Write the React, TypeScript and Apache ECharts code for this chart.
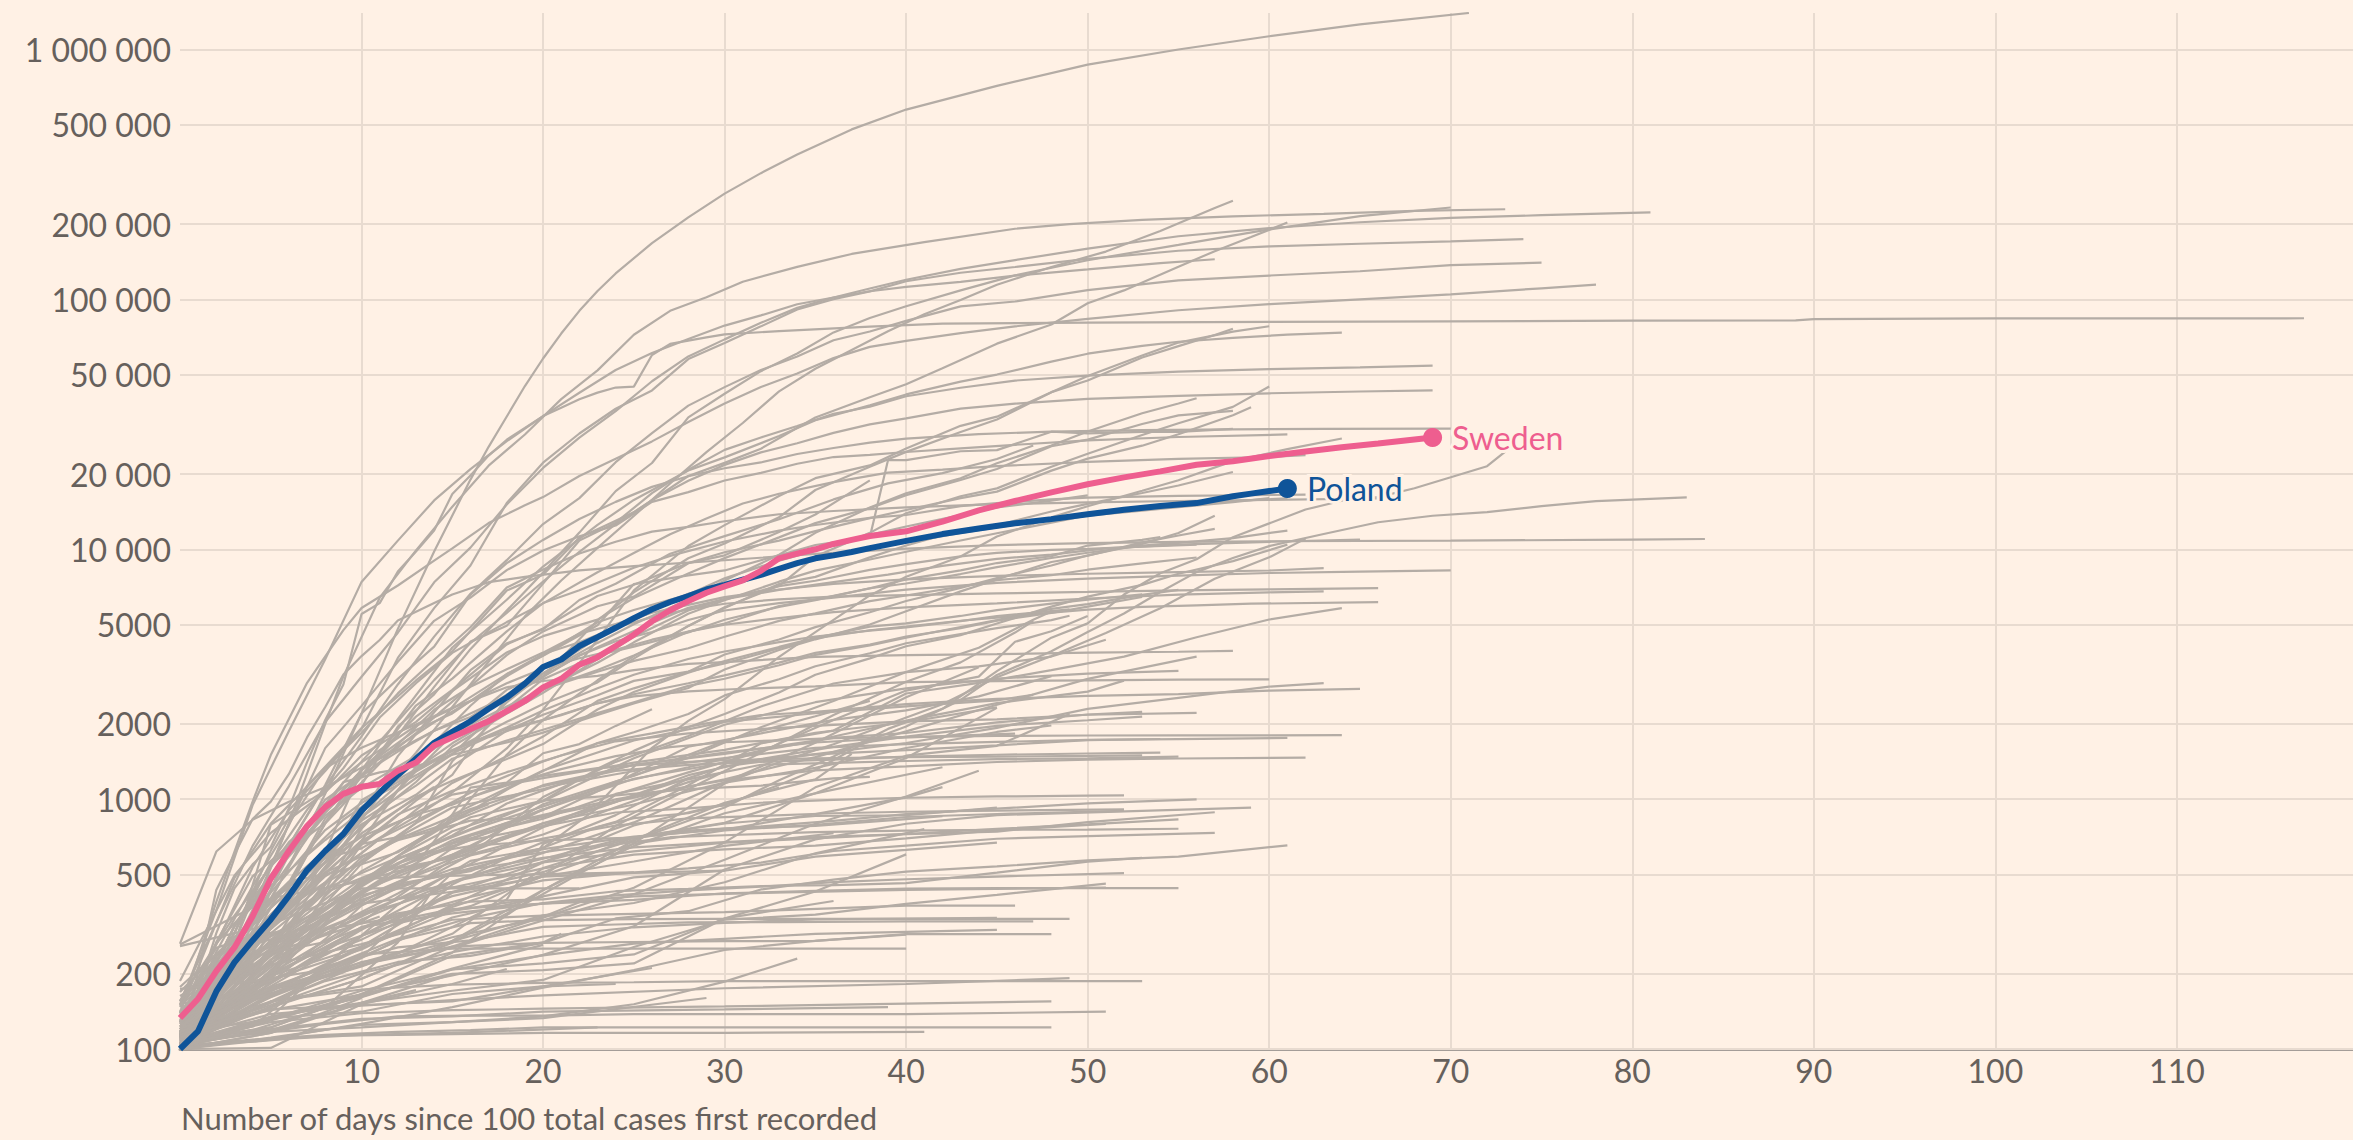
import React, { useEffect, useRef } from "react";
import * as echarts from "echarts";

// ---------- axis ticks ----------
const xTicks: number[] = [0, 10, 20, 30, 40, 50, 60, 70, 80, 90, 100, 110];
const yTicks: number[] = [100, 200, 500, 1000, 2000, 5000, 10000, 20000, 50000, 100000, 200000, 500000, 1000000];
const xAxisTitle = "Number of days since 100 total cases first recorded";

// ---------- highlighted countries: [day, cumulative cases] ----------
const sweden: number[][] = [[0,133],[1,159],[2,205],[3,255],[4,340],[5,480],[6,620],[7,780],[8,930],[9,1050],[10,1120],[11,1150],[12,1300],[13,1400],[14,1640],[15,1770],[16,1910],[17,2050],[18,2250],[19,2470],[20,2800],[21,3030],[22,3450],[23,3700],[24,4100],[25,4550],[26,5150],[27,5700],[28,6200],[29,6700],[30,7100],[31,7500],[32,8200],[33,9200],[34,9600],[35,10000],[36,10500],[37,10900],[38,11300],[40,11800],[42,12900],[44,14300],[46,15600],[48,16900],[50,18200],[52,19400],[54,20500],[56,21800],[58,22500],[60,23600],[62,24600],[64,25600],[66,26500],[69,28000]];
const poland: number[][] = [[0,100],[1,118],[2,170],[3,222],[4,272],[5,330],[6,410],[7,520],[8,620],[9,725],[10,900],[11,1060],[12,1250],[13,1450],[14,1680],[15,1860],[16,2050],[17,2300],[18,2550],[19,2900],[20,3380],[21,3620],[22,4100],[23,4450],[24,4850],[25,5300],[26,5750],[27,6150],[28,6500],[29,6900],[30,7200],[31,7550],[32,7900],[33,8350],[34,8800],[35,9200],[36,9450],[37,9750],[38,10100],[40,10800],[42,11500],[44,12100],[46,12700],[48,13200],[50,13800],[52,14400],[54,14900],[56,15300],[58,16300],[59,16700],[60,17100],[61,17500]];

// ---------- all other countries (grey) ----------
const greyNames: string[] = ["US","Spain","Italy","Germany","France","UK","Russia","Turkey","Brazil","Iran","China","Canada","Belgium","Netherlands","Switzerland","Portugal","Ireland","India","Peru","Mexico","Saudi Arabia","Chile","Pakistan","Qatar","Belarus","Singapore","Ecuador","UAE","Israel","Austria","Japan","South Korea","Romania","Ukraine","Bangladesh","Indonesia","Denmark","Philippines","Colombia","South Africa","Serbia","Dominican Republic","Kuwait","Egypt","Panama","Czechia","Norway","Argentina","Australia","Malaysia","Finland","Morocco","Algeria","Kazakhstan","Moldova","Bahrain","Ghana","Nigeria","Afghanistan","Oman","Luxembourg","Armenia","Hungary","Iraq","Cameroon","Azerbaijan","Thailand","Bolivia","Greece","Uzbekistan","Guinea","Honduras","Senegal","Croatia","Bosnia","Bulgaria","Sudan","Cuba","Iceland","Ivory Coast","North Macedonia","Estonia","Lithuania","Slovakia","New Zealand","Slovenia","Guatemala","Somalia","DR Congo","Djibouti","Kyrgyzstan","Tunisia","Latvia","El Salvador","Gabon","Mali","Kenya","Albania","Cyprus","Sri Lanka","Lebanon","Costa Rica","Niger","Burkina Faso","Andorra","Uruguay","Georgia","San Marino","Jordan","Paraguay","Tanzania","Jamaica","Malta","Taiwan","Venezuela","Zambia","Sierra Leone","Mauritius","Montenegro","Vietnam","Rwanda","Ethiopia","Madagascar","Uganda","Brunei","Cambodia","Trinidad and Tobago","Faroe Islands","Kosovo","Palestine","Congo","Haiti","Chad","Equatorial Guinea","Cape Verde","Togo","Liberia","Nepal","Guinea-Bissau","Guernsey","Gibraltar","Mayotte","Reunion","Martinique","Guadeloupe","French Guiana","Isle of Man","Jersey","Bermuda","Puerto Rico","Eswatini","South Sudan","Myanmar","Tajikistan","Maldives","Central African Republic","Sao Tome and Principe","Benin"];

const greyLines: number[][][] = [
  [[0,100],[2,160],[4,290],[6,540],[8,1050],[10,2200],[12,4800],[14,9800],[16,19000],[17,25700],[18,34000],[19,45000],[20,58000],[21,73000],[22,90000],[23,108000],[24,127000],[26,168000],[28,213000],[30,265000],[32,320000],[34,380000],[37,479000],[40,575000],[45,715000],[50,870000],[55,1000000],[60,1130000],[65,1260000],[71,1400000]],
  [[0,120],[2,190],[4,350],[6,800],[8,2000],[9,3100],[11,6400],[13,9900],[15,14800],[17,21600],[19,28800],[21,39900],[23,52000],[25,72200],[27,90000],[29,102000],[31,117700],[34,135000],[37,152000],[41,169500],[46,191700],[49,200200],[53,208000],[58,215000],[63,220000],[68,226000],[73,229500]],
  [[0,155],[2,322],[4,650],[6,1128],[8,2036],[10,3089],[12,4636],[14,7375],[16,10149],[18,15113],[20,21157],[22,27980],[24,35713],[26,47021],[28,59138],[30,69176],[32,80589],[34,92472],[36,101739],[38,110574],[40,119827],[43,132547],[46,143626],[50,159516],[55,178972],[60,192994],[65,203591],[70,211938],[75,217185],[81,223096]],
  [[0,130],[2,262],[4,534],[6,902],[8,1296],[10,1908],[12,3675],[14,5813],[16,8604],[18,15320],[20,22213],[22,29056],[24,36508],[26,43211],[28,57695],[30,66885],[32,77981],[34,91159],[36,100123],[38,107663],[40,118181],[43,127854],[46,134753],[50,145184],[55,156513],[60,163009],[65,167007],[70,170588],[74,174098]],
  [[0,100],[2,191],[4,285],[6,653],[8,1126],[10,1784],[12,2876],[14,4469],[16,6633],[18,9043],[20,12612],[22,16018],[24,22304],[26,29155],[28,37575],[30,44550],[32,52128],[34,59105],[36,68605],[38,74390],[40,82048],[43,93790],[46,98076],[50,108847],[55,119151],[60,124575],[65,129581],[70,137150],[75,140227]],
  [[0,115],[2,206],[4,321],[6,459],[8,798],[10,1140],[12,1950],[14,2626],[16,3983],[18,5683],[20,8077],[22,11658],[24,17089],[26,22141],[28,33718],[30,41903],[32,51608],[34,60733],[36,73758],[38,84279],[40,93873],[43,108692],[46,124743],[50,143464],[55,165221],[60,190584],[65,215260],[70,233151]],
  [[0,114],[3,199],[5,253],[7,438],[9,658],[11,1036],[13,1534],[15,2337],[17,3548],[19,5389],[21,7497],[23,10131],[25,13584],[27,18328],[29,24490],[31,32008],[33,42853],[35,52763],[37,62773],[39,74588],[41,87147],[43,99399],[45,114431],[48,134687],[51,155370],[54,187859],[57,232243],[58,248000]],
  [[0,150],[2,359],[4,947],[6,1872],[8,3629],[10,7402],[12,10827],[14,15679],[16,20921],[18,27069],[20,34109],[22,42282],[24,52167],[26,61049],[28,69392],[30,78546],[32,86306],[34,95591],[36,101790],[38,107773],[40,112261],[43,117589],[46,124375],[50,131744],[54,139771],[57,144749]],
  [[0,151],[3,291],[5,621],[7,1128],[10,1924],[13,2985],[15,3904],[18,6836],[20,7910],[22,11130],[25,14049],[28,19638],[30,22169],[32,25262],[35,33682],[38,40581],[40,45757],[42,52995],[45,66501],[48,79361],[50,96559],[52,108620],[55,135106],[57,155939],[59,177589],[61,202918]],
  [[0,139],[2,388],[4,978],[5,1501],[7,2922],[9,4747],[10,5823],[12,7161],[14,9000],[15,10075],[17,12729],[19,14991],[20,16169],[22,19644],[24,23049],[26,27017],[28,32332],[30,38309],[32,44605],[34,50468],[36,58226],[38,64586],[40,68192],[43,73303],[46,77995],[50,83505],[55,90481],[60,95646],[65,100000],[70,104691],[75,110767],[78,114533]],
  [[0,100],[2,291],[3,440],[4,548],[5,643],[6,920],[7,1406],[8,2075],[9,2877],[10,5509],[11,6087],[12,8141],[13,9802],[14,11891],[15,16630],[16,19716],[17,23707],[18,27440],[19,30587],[20,34110],[21,36814],[22,39829],[23,42354],[24,44386],[25,44759],[26,59895],[27,66358],[28,68413],[29,70513],[30,72434],[33,74680],[38,77754],[42,79968],[50,80778],[60,81300],[70,81700],[80,82200],[89,82341],[90,83403],[100,83900],[117,84024]],
  [[0,108],[3,198],[5,304],[7,424],[10,1302],[12,2091],[15,4043],[18,6280],[20,8527],[23,12519],[25,15756],[28,20654],[30,23316],[33,28379],[35,32813],[38,37657],[40,41649],[43,46895],[45,50026],[48,56343],[50,60616],[53,65194],[55,67674],[58,70091],[61,72278],[64,73568]],
  [[0,169],[2,239],[4,314],[6,599],[8,886],[10,1243],[12,1795],[14,2815],[16,4269],[18,4937],[20,7284],[22,10836],[24,12775],[26,16770],[28,20814],[30,24983],[32,28018],[34,31119],[36,34809],[38,37183],[40,40956],[43,44293],[46,47334],[50,49517],[55,51420],[60,52596],[65,53449],[69,54288]],
  [[0,128],[2,265],[4,382],[6,614],[8,959],[10,1413],[12,2051],[14,2994],[16,4216],[18,5560],[20,7431],[22,9762],[24,12595],[26,15723],[28,18803],[30,21762],[32,24413],[34,26551],[36,29214],[38,31589],[40,33405],[43,36535],[46,38245],[50,39989],[55,41087],[60,42093],[65,42788],[69,43211]],
  [[0,114],[2,268],[4,491],[6,652],[8,1139],[10,2200],[12,3028],[14,4075],[16,6575],[18,8795],[20,10897],[22,13213],[24,15475],[26,17768],[28,19606],[30,21100],[32,22253],[34,24051],[36,25415],[38,26732],[40,27740],[44,28894],[48,29586],[53,29981],[58,30207],[63,30344],[70,30413]],
  [[0,112],[2,245],[4,448],[6,785],[8,1600],[10,2362],[12,3544],[14,5170],[16,6408],[18,8251],[20,9886],[22,11278],[24,12442],[26,15472],[28,16934],[30,18841],[32,20206],[34,21982],[36,23392],[38,23864],[40,24505],[43,25351],[46,26182],[50,27268],[55,28132],[61,28810]],
  [[0,129],[3,292],[5,557],[7,906],[9,1329],[11,2121],[13,2910],[15,3849],[18,5111],[20,6074],[23,8089],[25,9655],[27,11479],[29,13271],[31,15251],[33,16671],[36,18561],[39,20253],[42,20833],[45,21506],[50,22385],[55,22996],[60,23401],[62,23827]],
  [[0,102],[3,143],[5,195],[8,415],[10,657],[13,987],[15,1251],[18,2543],[20,3072],[23,5194],[25,6725],[28,9205],[30,10541],[33,13430],[35,17265],[38,21370],[40,24530],[43,29451],[45,33050],[48,42533],[50,49400],[53,59662],[55,67161],[58,74281],[60,78055]],
  [[0,117],[3,263],[5,395],[8,580],[10,635],[13,852],[15,1065],[18,1595],[20,2281],[23,4342],[25,6848],[28,10303],[30,12491],[33,16325],[35,19250],[38,21648],[40,25331],[43,31190],[45,33931],[48,42534],[50,47372],[53,58526],[55,65015],[57,72059],[58,76306]],
  [[0,118],[3,203],[5,316],[8,585],[10,848],[13,1215],[15,1510],[18,2439],[20,3181],[23,4219],[25,5014],[28,6297],[30,7497],[33,9501],[35,11633],[38,14677],[40,16752],[43,19224],[45,22088],[48,26025],[50,29616],[53,35022],[55,38324],[56,40186]],
  [[0,103],[3,238],[5,344],[8,562],[10,767],[13,1299],[15,1563],[18,2039],[20,2402],[23,2932],[25,3651],[28,4934],[30,5862],[33,7142],[35,9362],[38,11631],[40,13930],[43,16299],[45,17522],[48,21402],[50,24097],[53,28656],[55,31938],[58,37136],[60,44830]],
  [[0,156],[3,342],[5,537],[8,922],[10,1306],[13,2139],[15,2738],[18,4161],[20,4815],[23,6501],[25,7213],[28,8807],[30,9730],[33,10832],[35,11812],[38,13331],[40,14365],[43,16023],[45,17008],[48,20643],[50,23048],[53,25972],[55,28866],[58,34381],[59,37040]],
  [[0,187],[3,495],[5,733],[8,1063],[10,1495],[13,2039],[15,2708],[18,3864],[20,4489],[23,5230],[25,6383],[28,7993],[30,9216],[33,11155],[35,12723],[38,14612],[40,16473],[43,18926],[45,20941],[48,25837],[50,27474],[53,31728],[55,34336],[58,35788]],
  [[0,262],[5,401],[10,470],[15,590],[20,781],[23,949],[26,1604],[28,2057],[30,2512],[33,3711],[35,4663],[38,6533],[40,7764],[43,9358],[45,11244],[48,13409],[50,14872],[53,17142],[55,18890],[58,22520],[61,25149],[64,27741]],
  [[0,152],[3,163],[5,304],[8,562],[10,861],[12,1486],[14,2226],[16,3281],[18,4204],[20,4779],[22,6264],[24,7281],[27,9590],[30,11289],[33,13181],[36,15828],[39,18350],[42,20168],[45,22973],[47,26000]],
  [[0,102],[5,130],[10,166],[15,243],[20,432],[25,683],[30,926],[33,1189],[36,1481],[39,1910],[42,2299],[45,3252],[48,4427],[50,5050],[52,6588],[54,8014],[56,9125],[58,11178],[60,12693],[62,14423],[64,15641],[66,16169],[68,17548],[70,19410],[72,21500],[73,24600]],
  [[0,111],[3,260],[5,789],[8,1082],[10,1403],[13,1966],[15,2302],[18,3163],[20,3747],[23,4965],[25,7257],[28,7858],[30,8225],[33,9468],[35,10398],[38,11183],[39,22719],[40,22719],[43,24675],[45,24934],[48,29538],[50,29071],[53,29509],[55,29509],[58,30298]],
  [[0,113],[3,153],[5,198],[8,333],[10,468],[13,664],[15,814],[18,1505],[20,2076],[23,2990],[25,3736],[28,4933],[30,5825],[33,7265],[35,7755],[38,9281],[40,10349],[43,11929],[45,12481],[48,14163],[50,15192],[53,16793],[55,17989],[58,20386]],
  [[0,126],[3,255],[5,433],[8,883],[10,1238],[13,2369],[15,3035],[18,4695],[20,6092],[22,6857],[25,8430],[27,9404],[30,10743],[33,11868],[35,12501],[38,13362],[40,13713],[43,14882],[45,15298],[48,15834],[50,16101],[55,16346],[62,16539]],
  [[0,104],[2,182],[4,361],[6,800],[8,1332],[10,1843],[12,2649],[14,3611],[16,4876],[18,7029],[20,8291],[22,9618],[24,10711],[26,11766],[28,12297],[30,12942],[33,13806],[36,14226],[40,14710],[45,15148],[50,15402],[55,15597],[60,15774],[67,15997]],
  [[0,105],[3,160],[5,186],[8,241],[10,274],[13,349],[15,455],[18,581],[20,639],[23,773],[25,839],[28,878],[30,950],[33,1140],[35,1307],[38,1724],[40,1953],[43,2495],[45,3139],[48,3906],[50,4667],[52,5530],[54,6748],[56,8100],[58,9231],[60,10296],[63,11512],[66,12829],[69,13614],[72,14088],[75,14877],[78,15575],[83,16120]],
  [[0,104],[1,204],[2,433],[3,602],[4,833],[5,977],[6,1261],[7,1766],[8,2337],[9,3150],[10,3736],[11,4335],[12,5186],[13,5621],[14,6088],[15,6593],[17,7382],[19,7755],[22,8236],[25,8565],[30,9037],[35,9583],[40,10062],[45,10384],[50,10591],[55,10708],[60,10765],[70,10822],[80,10936],[84,10991]],
  [[0,123],[3,217],[5,308],[8,433],[10,762],[13,1292],[15,1815],[18,2738],[20,3183],[23,4417],[25,5202],[28,6633],[30,7216],[33,8418],[35,9242],[38,10096],[40,10635],[43,11616],[45,12240],[48,13163],[50,13837],[53,14811],[55,15131],[58,15588],[61,16002]],
  [[0,113],[3,310],[5,548],[8,804],[10,1319],[13,1892],[15,2203],[18,3102],[20,3764],[23,5106],[25,5710],[28,6592],[30,7647],[33,9009],[35,9866],[38,11411],[40,12331],[43,13691],[45,14710],[48,15648],[50,16425]],
  [[0,123],[3,218],[5,330],[8,803],[10,1231],[13,1838],[15,2456],[18,3772],[20,4689],[23,5913],[25,6462],[28,8790],[30,9455],[33,11719],[35,13770],[38,18863]],
  [[0,117],[3,309],[5,450],[8,686],[10,893],[13,1414],[15,1790],[18,2273],[20,2738],[23,3512],[25,4241],[28,5516],[30,6248],[33,7418],[35,8211],[38,9096],[40,9771],[43,10843],[45,11587],[48,12776],[50,13645],[53,14265],[55,14749],[58,15438],[60,16006]],
  [[0,264],[2,617],[4,827],[6,977],[8,1115],[10,1337],[12,1577],[14,1877],[16,2200],[18,2577],[20,3107],[22,3757],[24,4369],[26,5071],[28,5830],[30,6318],[33,6876],[36,7384],[39,7912],[42,8575],[45,9158],[48,9523],[51,10083],[55,10429],[60,10713],[65,10927]],
  [[0,111],[3,187],[5,217],[8,380],[10,552],[13,803],[15,1418],[18,2311],[20,3018],[23,3764],[25,4076],[28,4648],[30,5223],[33,5878],[35,6259],[38,6981],[40,7294],[43,7958],[45,8488],[48,9223],[50,9684],[53,10343],[55,10610],[58,11086],[61,11876]],
  [[0,102],[3,196],[5,306],[8,491],[10,608],[13,906],[15,1161],[18,1485],[20,1780],[23,2473],[25,2776],[28,3233],[30,3792],[33,4356],[35,4881],[38,5597],[40,6207],[43,7006],[45,7668],[48,8613],[50,9456],[53,10495],[55,11613],[57,13610]],
  [[0,116],[3,240],[5,402],[7,709],[9,1170],[11,1280],[13,1353],[15,1505],[18,1686],[20,1845],[23,2173],[25,2415],[28,2783],[30,3300],[33,3953],[35,4361],[38,4996],[40,5647],[43,6783],[45,7572],[48,8895],[50,9420],[53,10652],[55,11350],[57,12074]],
  [[0,103],[3,222],[5,303],[8,528],[10,785],[13,1171],[15,1624],[18,2200],[20,2666],[23,3630],[25,4465],[28,5690],[30,6318],[33,7114],[35,7483],[38,8275],[40,8724],[43,9362],[45,9677],[48,9943],[50,10032],[53,10243],[56,10438]],
  [[0,112],[3,312],[5,488],[8,859],[10,1109],[13,1488],[15,1828],[18,2349],[20,2759],[23,3286],[25,3755],[28,4680],[30,5044],[33,5926],[35,6293],[38,6972],[40,7578],[43,8235],[45,8807],[48,9376],[50,10347],[53,10900],[54,11196]],
  [[0,104],[5,148],[10,191],[15,266],[20,417],[25,665],[30,1154],[33,1405],[36,1658],[39,1995],[42,2399],[45,3075],[48,3740],[51,4619],[54,5804],[57,7623],[60,9286],[62,11028]],
  [[0,110],[3,196],[5,285],[8,366],[10,456],[13,609],[15,710],[18,865],[20,985],[23,1322],[25,1560],[28,1939],[30,2190],[33,2673],[35,3144],[38,3659],[40,4092],[43,4534],[45,5042],[48,5895],[50,6465],[53,7201],[55,7981],[58,8964],[61,10431]],
  [[0,137],[3,245],[5,345],[8,558],[10,989],[13,1317],[15,1673],[18,2249],[20,2752],[23,3234],[25,3574],[28,4016],[30,4467],[33,5166],[35,5538],[38,6200],[40,6532],[43,7090],[45,7523],[48,7868],[50,8282],[53,8783],[56,9268]],
  [[0,116],[2,150],[4,298],[6,464],[8,836],[10,1165],[12,1654],[14,2279],[16,2817],[18,3308],[20,3858],[22,4591],[24,5017],[26,5569],[28,5991],[30,6433],[33,6900],[36,7273],[40,7579],[45,7819],[50,7979],[55,8095],[60,8221],[63,8406]],
  [[0,108],[2,176],[4,400],[6,621],[8,996],[10,1256],[12,1550],[14,1877],[16,2132],[18,2621],[20,3084],[22,3755],[24,4284],[26,4665],[28,5208],[30,5687],[33,6086],[36,6409],[40,6896],[45,7338],[50,7631],[55,7847],[60,8034],[65,8132],[70,8237]],
  [[0,128],[3,266],[5,387],[8,589],[10,820],[13,1133],[15,1451],[18,1715],[20,1894],[23,2208],[25,2443],[28,2839],[30,3031],[33,3435],[35,3780],[38,4127],[40,4428],[43,4885],[45,5208],[48,5776],[50,6034],[53,6563],[55,6879]],
  [[0,107],[2,140],[4,200],[6,300],[8,454],[10,681],[12,1081],[14,1682],[16,2364],[18,3166],[20,3809],[22,4245],[24,4864],[26,5350],[28,5744],[30,6052],[33,6303],[36,6462],[40,6547],[45,6661],[50,6747],[55,6847],[60,6914],[66,6989]],
  [[0,149],[2,197],[4,428],[6,673],[8,900],[10,1306],[12,1624],[14,2031],[16,2470],[18,2908],[20,3333],[22,3662],[24,3963],[26,4346],[28,4683],[30,4987],[33,5305],[36,5603],[40,5851],[45,6071],[50,6353],[55,6589],[60,6726],[63,6779]],
  [[0,155],[3,272],[5,400],[8,626],[10,792],[13,1041],[15,1352],[18,1882],[20,2176],[23,2605],[25,2974],[28,3237],[30,3489],[33,4014],[35,4395],[38,4740],[40,4906],[43,5176],[45,5327],[48,5573],[50,5738],[53,5880],[56,5962],[59,6054],[66,6145]],
  [[0,115],[3,225],[5,345],[8,556],[10,708],[13,1021],[15,1184],[18,1448],[20,1661],[23,2283],[25,2685],[28,3209],[30,3568],[33,4065],[35,4423],[38,4903],[40,5053],[43,5408],[45,5711],[48,6063],[50,6281],[53,6607]],
  [[0,139],[3,264],[5,367],[8,584],[10,847],[13,1320],[15,1572],[18,1914],[20,2070],[23,2418],[25,2629],[28,2910],[30,3127],[33,3517],[35,3848],[38,4154],[40,4474],[43,4838],[45,5182],[48,5558],[50,5891],[53,6442]],
  [[0,111],[3,228],[5,302],[8,464],[10,662],[13,727],[15,812],[18,1091],[20,1295],[23,1676],[25,1852],[28,2191],[30,2601],[33,3020],[35,3402],[38,3834],[40,4205],[43,4578],[45,4834],[48,5207],[49,5417]],
  [[0,149],[3,263],[5,423],[8,752],[10,965],[13,1289],[15,1560],[18,1934],[20,2264],[23,2778],[25,3147],[28,3638],[30,3897],[33,4247],[35,4476],[38,4728],[40,4867],[43,5153],[45,5406],[49,5745]],
  [[0,109],[4,214],[8,332],[12,458],[16,515],[20,672],[24,811],[28,1136],[32,1671],[36,1881],[40,2647],[44,2921],[48,3284],[52,3720],[56,4444],[60,5236],[64,5816]],
  [[0,132],[4,161],[8,214],[12,378],[16,566],[20,636],[24,1042],[28,1279],[32,1550],[36,2074],[40,2719],[44,3091],[46,4263],[48,4700],[50,5408]],
  [[0,111],[4,184],[8,254],[12,318],[16,373],[20,493],[24,782],[28,1095],[32,1532],[36,2170],[40,2950],[43,3526],[46,4641],[47,5162]],
  [[0,110],[4,235],[8,367],[12,555],[16,714],[20,906],[24,1176],[28,1463],[32,1939],[36,2469],[40,3224],[44,4033],[47,5226],[48,5639]],
  [[0,109],[4,179],[8,298],[12,419],[16,599],[20,1019],[24,1410],[28,1790],[32,2348],[36,2903],[40,3224],[44,3399],[48,3721],[51,4341]],
  [[0,140],[3,484],[5,798],[8,1333],[10,1605],[13,1988],[15,2319],[18,2804],[20,2970],[23,3115],[25,3281],[28,3480],[30,3537],[35,3711],[40,3769],[45,3802],[50,3859],[55,3888],[58,3923]],
  [[0,115],[5,235],[10,424],[15,663],[20,853],[25,1013],[30,1201],[35,1473],[40,1867],[45,2386],[50,3029],[56,3718]],
  [[0,103],[5,226],[10,447],[15,744],[20,980],[25,1458],[30,1984],[35,2443],[40,2775],[45,3035],[50,3178],[55,3263]],
  [[0,101],[5,164],[10,233],[15,506],[20,772],[25,1031],[30,1352],[35,1513],[40,1677],[45,1928],[50,2296],[55,2543],[60,2818],[63,2913]],
  [[0,113],[4,193],[8,509],[12,685],[16,820],[20,848],[24,1163],[28,1621],[32,1832],[36,2077],[40,2265],[44,2579],[48,3105]],
  [[0,122],[5,273],[10,584],[15,926],[20,1098],[25,1373],[30,1518],[35,1717],[40,2060],[45,2422],[50,2693],[52,2980]],
  [[0,114],[3,212],[5,322],[7,599],[9,827],[11,1045],[13,1245],[15,1524],[17,1771],[19,1978],[21,2169],[23,2423],[25,2579],[28,2700],[31,2765],[35,2826],[40,2938],[45,2969],[50,2989],[55,3009],[60,3017]],
  [[0,107],[5,183],[10,300],[15,465],[20,609],[25,807],[30,1167],[35,1681],[40,2556],[44,3372]],
  [[0,117],[2,190],[5,331],[8,464],[11,695],[14,892],[17,1156],[20,1415],[23,1673],[26,1832],[29,2011],[32,2170],[35,2235],[40,2401],[45,2517],[50,2591],[55,2632],[60,2716],[65,2760]],
  [[0,104],[5,190],[10,457],[15,865],[20,1302],[25,1716],[30,2039],[35,2207],[40,2349],[45,2486],[47,2612]],
  [[0,111],[5,212],[10,404],[15,579],[20,954],[25,1240],[30,1710],[35,2146],[38,2473]],
  [[0,110],[5,268],[10,382],[15,426],[20,510],[25,702],[30,804],[35,1055],[40,1461],[45,2318]],
  [[0,105],[5,175],[10,222],[15,280],[20,335],[25,442],[30,671],[35,1115],[40,1492],[45,1634],[49,2189]],
  [[0,105],[3,254],[6,382],[9,586],[12,867],[15,1079],[18,1282],[21,1495],[24,1704],[28,1832],[32,1908],[36,1981],[40,2047],[45,2085],[50,2176],[56,2213]],
  [[0,126],[4,258],[8,368],[12,579],[16,753],[20,935],[24,1157],[28,1342],[32,1565],[36,1757],[40,1839],[45,2027],[50,2181],[53,2236]],
  [[0,163],[4,242],[8,346],[12,503],[16,635],[20,800],[24,975],[28,1247],[32,1447],[36,1618],[40,1778],[45,1965],[50,2069],[53,2138]],
  [[0,107],[4,162],[8,275],[10,375],[12,442],[14,678],[16,1111],[18,1164],[20,1526],[22,1661],[24,1964],[26,2289]],
  [[0,139],[5,269],[10,515],[15,814],[20,1137],[25,1369],[30,1537],[35,1685],[40,1766],[46,1830]],
  [[0,103],[3,156],[5,199],[8,409],[10,568],[13,802],[15,963],[18,1135],[21,1319],[24,1486],[27,1616],[30,1689],[33,1720],[36,1754],[40,1771],[45,1789],[50,1797],[55,1799],[60,1801],[64,1802]],
  [[0,101],[5,194],[10,323],[15,574],[20,801],[25,952],[30,1164],[35,1333],[40,1602],[45,1857],[48,1971]],
  [[0,114],[5,241],[10,430],[15,599],[20,908],[25,1207],[30,1399],[35,1511],[40,1572],[45,1642],[50,1723],[54,1740]],
  [[0,115],[3,225],[6,283],[9,404],[12,575],[15,715],[18,961],[21,1149],[24,1258],[27,1373],[30,1459],[35,1605],[40,1660],[45,1694],[50,1725],[55,1739],[61,1758]],
  [[0,105],[4,209],[8,460],[12,691],[16,912],[20,1128],[24,1298],[28,1370],[32,1410],[36,1438],[40,1479],[45,1505],[50,1523],[54,1534]],
  [[0,137],[4,216],[8,314],[12,450],[16,715],[20,835],[24,1049],[28,1199],[32,1373],[36,1396],[40,1421],[45,1445],[50,1457],[55,1480]],
  [[0,102],[3,205],[5,368],[8,589],[10,708],[13,868],[15,950],[18,1160],[20,1239],[23,1330],[25,1366],[28,1409],[30,1431],[35,1456],[40,1472],[45,1479],[50,1489],[53,1497]],
  [[0,141],[3,253],[6,286],[9,383],[12,528],[15,684],[18,802],[21,897],[24,997],[27,1091],[30,1188],[35,1304],[40,1353],[45,1408],[50,1439],[55,1454],[62,1465]],
  [[0,126],[5,167],[10,214],[15,289],[20,530],[25,688],[30,967],[35,1199],[37,1518]],
  [[0,116],[4,237],[8,328],[12,528],[16,601],[20,722],[24,928],[28,1170],[30,1284]],
  [[0,109],[5,161],[10,223],[15,254],[20,327],[25,416],[30,572],[35,797],[40,1024],[44,1298]],
  [[0,135],[4,214],[8,363],[12,591],[16,846],[20,986],[24,1035],[28,1097],[32,1133],[36,1210],[38,1227]],
  [[0,111],[5,228],[10,339],[15,506],[20,631],[25,708],[30,756],[35,871],[40,1016],[42,1117]],
  [[0,114],[4,227],[8,423],[12,553],[16,685],[20,780],[24,884],[28,918],[32,967],[36,994],[40,1013],[45,1025],[50,1032],[52,1035]],
  [[0,111],[4,197],[8,305],[12,398],[16,493],[20,577],[24,682],[28,748],[32,778],[36,818],[40,871],[45,916],[50,961],[56,997]],
  [[0,118],[5,190],[10,250],[15,377],[20,558],[25,784],[30,958],[33,1112]],
  [[0,108],[4,167],[8,211],[12,276],[16,335],[18,397],[20,661],[24,863],[28,1209]],
  [[0,105],[5,171],[10,258],[15,370],[20,490],[25,563],[30,650],[36,730]],
  [[0,122],[5,172],[10,216],[15,270],[20,343],[25,384],[30,465],[35,607],[41,758]],
  [[0,104],[5,197],[10,304],[15,409],[20,494],[25,663],[30,750],[35,789],[40,848],[45,872],[52,898]],
  [[0,116],[4,179],[8,320],[12,465],[16,595],[20,695],[24,784],[28,837],[32,857],[36,878],[40,890],[45,900],[52,910]],
  [[0,102],[5,122],[10,166],[15,197],[20,238],[25,310],[30,523],[35,690],[40,797],[45,863],[59,925]],
  [[0,120],[5,248],[10,412],[15,508],[20,582],[25,641],[30,673],[35,704],[40,725],[45,741],[50,809],[57,886]],
  [[0,113],[5,201],[10,330],[15,467],[20,558],[25,618],[30,669],[35,697],[40,725],[45,761],[50,792],[55,830]],
  [[0,120],[4,253],[8,438],[12,584],[16,648],[20,684],[25,701],[30,763],[35,781],[40,832],[42,854]],
  [[0,114],[5,222],[10,345],[15,443],[20,528],[25,600],[30,629],[35,652],[40,696],[45,751],[51,796]],
  [[0,113],[3,164],[6,267],[9,376],[12,439],[15,525],[18,583],[21,628],[24,659],[27,704],[30,717],[35,738],[40,748],[45,754],[50,755],[55,761]],
  [[0,135],[4,162],[8,238],[12,338],[16,406],[20,473],[24,502],[28,528],[32,557],[36,620],[40,652],[45,694],[50,711],[57,733]],
  [[0,103],[5,162],[10,234],[15,336],[20,408],[25,486],[30,517],[35,589],[40,626],[45,670]],
  [[0,101],[4,144],[8,187],[12,223],[16,236],[20,266],[24,333],[28,356],[32,435],[36,476],[40,513],[45,538],[50,569],[55,589],[61,653]],
  [[0,112],[4,235],[8,268],[12,349],[16,389],[20,397],[24,428],[28,437],[32,449],[36,453],[40,461],[45,508],[50,562],[53,582]],
  [[0,104],[5,134],[10,161],[15,208],[20,220],[25,239],[30,333],[35,427],[40,601]],
  [[0,147],[2,254],[4,284],[6,299],[10,480],[14,492],[25,509]],
  [[0,105],[5,196],[10,257],[15,422],[20,490],[25,507],[30,517]],
  [[0,107],[4,156],[8,196],[12,241],[16,334],[20,384],[24,412],[28,431],[32,446],[36,465],[40,478],[45,490],[52,506]],
  [[0,100],[5,195],[10,306],[15,363],[20,382],[25,395],[30,420],[35,429],[40,438],[45,440],[55,440]],
  [[0,106],[5,135],[10,153],[15,171],[20,189],[25,256],[30,329],[35,345],[40,381],[45,414],[51,459]],
  [[0,106],[4,119],[8,146],[12,267],[14,441],[16,446]],
  [[0,104],[5,155],[10,178],[15,257],[20,338],[22,387]],
  [[0,102],[4,143],[8,196],[12,273],[16,319],[20,328],[25,331],[30,332],[40,332],[49,332]],
  [[0,105],[4,123],[8,214],[12,255],[16,272],[20,308],[24,315],[28,321],[33,322],[40,324],[47,324]],
  [[0,113],[5,153],[10,218],[15,257],[20,266],[25,268],[30,270],[35,271],[40,288],[48,288]],
  [[0,102],[5,110],[10,126],[15,147],[20,176],[25,207],[30,249],[35,271],[40,287]],
  [[0,117],[5,131],[10,162],[15,210],[20,261]],
  [[0,106],[5,117],[10,122],[15,128],[20,135],[25,151],[30,186],[34,230]],
  [[0,100],[5,116],[10,160]],
  [[0,104],[4,115],[8,126],[12,135],[16,136],[20,136],[25,138],[30,138],[40,138],[51,141]],
  [[0,103],[4,109],[8,114],[12,117],[16,119],[20,122],[25,122],[30,122],[40,122],[48,122]],
  [[0,104],[4,107],[8,113],[12,114],[16,115],[20,116],[30,116],[41,117]],
  [[0,118],[5,155],[10,173],[15,181],[20,184],[25,185],[30,187],[40,187],[53,187]],
  [[0,112],[5,145],[10,283],[15,423],[20,561],[25,702],[30,799],[35,856],[40,862],[45,925]],
  [[0,109],[5,217],[10,263],[15,329],[20,342],[30,353],[40,375],[46,375]],
  [[0,117],[5,143],[10,165],[15,200],[20,207],[25,220],[30,333],[36,391]],
  [[0,100],[5,101],[10,151],[15,182],[18,209]],
  [[0,117],[5,170],[10,253],[15,357],[20,405]],
  [[0,258],[5,315],[10,439],[15,439],[22,439]],
  [[0,109],[5,122],[10,165],[15,236],[20,267],[21,289]],
  [[0,100],[5,116],[10,153],[15,199]],
  [[0,101],[5,133],[10,141],[15,166],[20,178],[26,211]],
  [[0,102],[5,134],[9,249]],
  [[0,100],[5,205],[10,475],[15,641],[20,913]],
  [[0,104],[5,166],[10,239],[15,252],[20,252],[30,252],[40,252]],
  [[0,103],[5,120],[10,132],[15,135],[20,141],[30,144],[39,147]],
  [[0,112],[5,147],[10,191],[15,271],[20,433],[25,650],[30,878],[35,1055],[42,1342]],
  [[0,111],[5,183],[10,308],[15,349],[20,382],[25,408],[30,418],[40,433],[51,443]],
  [[0,110],[5,138],[10,149],[15,157],[20,164],[30,175],[40,182],[49,192]],
  [[0,106],[5,128],[10,139],[15,143],[20,145],[30,148],[40,152],[48,155]],
  [[0,100],[5,111],[10,125],[15,128],[20,133],[29,160]],
  [[0,114],[5,150],[10,201],[15,244],[20,282],[25,307],[30,320],[35,330],[45,335]],
  [[0,101],[5,132],[10,171],[15,208],[20,237],[25,264],[30,276],[35,289],[45,300]],
  [[0,100],[5,109],[10,114],[15,116],[23,122]],
  [[0,127],[5,316],[10,683],[15,1043],[20,1213],[25,1400],[30,1575],[35,1843],[40,2031],[45,2329]],
  [[0,106],[5,119],[10,153],[13,172]],
  [[0,120],[5,174],[9,203]],
  [[0,111],[5,144],[10,150],[15,155],[20,178],[24,182]],
  [[0,128],[2,230],[4,293],[6,379],[8,522],[10,729],[12,907],[14,1118]],
  [[0,177],[3,280],[6,468],[9,519],[12,613],[15,835],[17,955]],
  [[0,143],[4,179],[8,301],[11,327]],
  [[0,174],[4,187],[8,208],[10,235]],
  [[0,140],[5,242],[10,319],[11,339]],
];

// ---------- styles ----------
const BG = "#fff1e5";
const TEXT = "#66605c";
const GRID = "#e8dbd0";
const GREY = "#b4aca5";
const PINK = "#ee5e8f";
const BLUE = "#0f5499";
const FONT = "Lato, 'Noto Sans', sans-serif";

function fmt(v: number): string {
  if (v < 10000) return String(v);
  return String(v).replace(/\B(?=(\d{3})+(?!\d))/g, " ");
}

function buildOption() {
  const greySeries = greyLines.map((d, i) => {
    const s: any = {
      type: "line",
      name: greyNames[i],
      data: d,
      symbol: "none",
      showSymbol: false,
      silent: true,
      z: 2,
      lineStyle: { color: GREY, width: 2.2 },
      emphasis: { disabled: true },
    };
    if (i === 0) {
      s.markLine = {
        silent: true,
        symbol: "none",
        z: 1,
        animation: false,
        lineStyle: { color: GRID, width: 2, type: "solid" },
        label: { show: true, position: "start", distance: 9, color: TEXT, fontSize: 32, fontFamily: FONT },
        emphasis: { disabled: true },
        data: yTicks.map((v) => ({ yAxis: v, label: { formatter: fmt(v) } })),
      };
    }
    return s;
  });

  const last = (arr: number[][]) => arr[arr.length - 1];

  const highlight: any[] = [
    {
      type: "line", name: "Poland", data: poland, symbol: "none", showSymbol: false, silent: true, z: 3,
      lineStyle: { color: BLUE, width: 6 }, emphasis: { disabled: true },
    },
    {
      type: "line", name: "Sweden", data: sweden, symbol: "none", showSymbol: false, silent: true, z: 4,
      lineStyle: { color: PINK, width: 6 }, emphasis: { disabled: true },
    },
    {
      type: "scatter", name: "Poland end", data: [last(poland)], symbolSize: 19, silent: true, z: 5,
      itemStyle: { color: BLUE, opacity: 1 },
      label: { show: true, position: "right", distance: 10, formatter: "Poland", color: BLUE, fontSize: 32, fontFamily: FONT, textBorderColor: BG, textBorderWidth: 6 },
    },
    {
      type: "scatter", name: "Sweden end", data: [last(sweden)], symbolSize: 19, silent: true, z: 5,
      itemStyle: { color: PINK, opacity: 1 },
      label: { show: true, position: "right", distance: 10, formatter: "Sweden", color: PINK, fontSize: 32, fontFamily: FONT, textBorderColor: BG, textBorderWidth: 6 },
    },
  ];

  return {
    animation: false,
    backgroundColor: BG,
    textStyle: { fontFamily: FONT },
    title: {
      text: xAxisTitle,
      left: 181,
      top: 1102,
      padding: 0,
      textStyle: { color: TEXT, fontSize: 31, fontWeight: "normal", fontFamily: FONT },
    },
    grid: { left: 180, right: 0, top: 13, bottom: 91, containLabel: false, outerBoundsMode: "none" },
    xAxis: {
      type: "value",
      min: xTicks[0],
      max: 119.7,
      interval: 10,
      axisLine: { show: true, lineStyle: { color: "#a49d98", width: 3 } },
      axisTick: { show: false },
      axisLabel: {
        color: TEXT, fontSize: 32, fontFamily: FONT, margin: 5,
        showMinLabel: false, showMaxLabel: false,
        formatter: (v: number) => (xTicks.indexOf(v) > 0 ? String(v) : ""),
      },
      splitLine: { show: true, showMinLine: false, showMaxLine: false, lineStyle: { color: GRID, width: 2 } },
    },
    yAxis: {
      type: "log",
      logBase: 10,
      min: yTicks[0],
      max: 1400000,
      axisLine: { show: false },
      axisTick: { show: false },
      axisLabel: { show: false },
      splitLine: { show: false },
    },
    series: [...greySeries, ...highlight],
  };
}

export default function App() {
  const ref = useRef<HTMLDivElement>(null);
  useEffect(() => {
    if (!ref.current) return;
    const chart = echarts.init(ref.current, null, { renderer: "svg" });
    chart.setOption(buildOption() as any);
    return () => chart.dispose();
  }, []);
  return (
    <div
      ref={ref}
      style={{ position: "fixed", left: 0, top: 0, width: 2353, height: 1140, background: BG }}
    />
  );
}
